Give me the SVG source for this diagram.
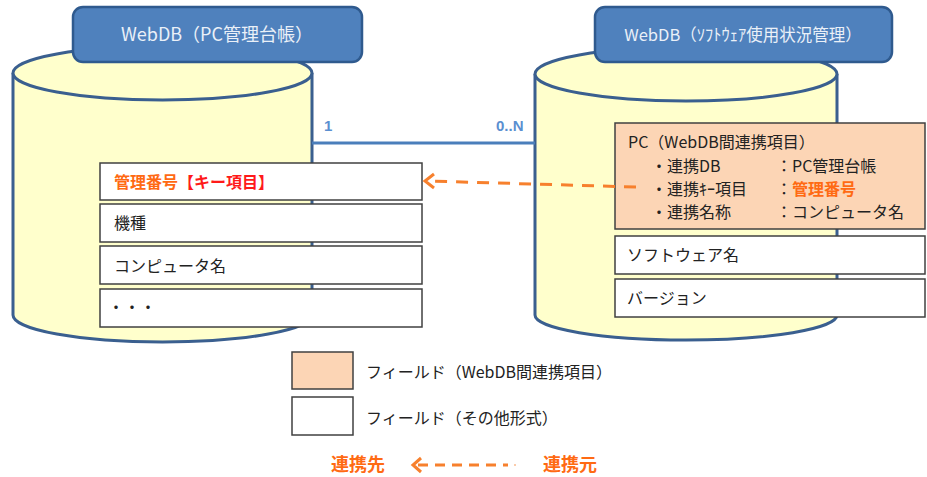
<svg xmlns="http://www.w3.org/2000/svg" width="927" height="477" viewBox="0 0 927 477">
<style>
text{font-family:"Noto Sans CJK JP","Liberation Sans",sans-serif;}
.cyl{fill:#FFFFCC;stroke:#3A5F8F;stroke-width:3;}
.hdr{fill:#4F81BD;stroke:#2F5A8E;stroke-width:2.5;}
.hdrt{fill:#EAF0F8;text-anchor:middle;}
.fld{fill:#FFFFFF;stroke:#404040;stroke-width:1.5;}
.lnk{fill:#FCD5B5;stroke:#404040;stroke-width:1.5;}
.ft{fill:#222;font-size:16px;}
.or{fill:#FF6A13;font-weight:bold;}
.rd{fill:#FF1A1A;font-weight:bold;}
.card{fill:#5B8FD0;font-weight:bold;font-size:15px;font-family:"Liberation Sans",sans-serif;}
.dash{fill:none;stroke:#F7802D;stroke-width:3;}
</style>
<g id="db-left">
  <path class="cyl" d="M13,73 L13,315 A149.5,27 0 0 0 312,315 L312,73"/>
  <ellipse class="cyl" cx="162.5" cy="73" rx="149.5" ry="27"/>
</g>
<g id="db-right">
  <path class="cyl" d="M535,74 L535,315 A151,25 0 0 0 837,315 L837,74"/>
  <ellipse class="cyl" cx="686" cy="74" rx="151" ry="27"/>
</g>
<g id="header-left">
  <rect class="hdr" x="73" y="7" width="289" height="55" rx="10"/>
  <text class="hdrt" x="217" y="41" font-size="18">WebDB（PC管理台帳）</text>
</g>
<g id="header-right">
  <rect class="hdr" x="595" y="7" width="297" height="55" rx="10"/>
  <text class="hdrt" x="743" y="41" font-size="16.5">WebDB（ｿﾌﾄｳｪｱ使用状況管理）</text>
</g>
<g id="left-fields">
  <rect class="fld" x="100" y="163" width="322" height="37"/>
  <text class="ft" x="114" y="188"><tspan class="or">管理番号</tspan><tspan class="rd">【キー項目】</tspan></text>
  <rect class="fld" x="100" y="204" width="322" height="38"/>
  <text class="ft" x="114" y="229">機種</text>
  <rect class="fld" x="100" y="246" width="322" height="38"/>
  <text class="ft" x="114" y="272">コンピュータ名</text>
  <rect class="fld" x="100" y="289" width="322" height="38"/>
  <text class="ft" x="108" y="313">・・・</text>
</g>
<g id="right-fields">
  <rect class="lnk" x="615" y="123" width="310" height="106"/>
  <text class="ft" x="628" y="148">PC（WebDB間連携項目）</text>
  <text class="ft" x="651" y="172">・連携DB</text>
  <text class="ft" x="776" y="172">：PC管理台帳</text>
  <text class="ft" x="651" y="195">・連携ｷｰ項目</text>
  <text class="ft" x="776" y="195">：<tspan class="or">管理番号</tspan></text>
  <text class="ft" x="651" y="218">・連携名称</text>
  <text class="ft" x="776" y="218">：コンピュータ名</text>
  <rect class="fld" x="615" y="236" width="310" height="38"/>
  <text class="ft" x="627" y="261">ソフトウェア名</text>
  <rect class="fld" x="615" y="279" width="310" height="38"/>
  <text class="ft" x="627" y="304">バージョン</text>
</g>
<g id="legend">
  <rect class="lnk" x="292" y="352" width="61" height="37"/>
  <text class="ft" x="366" y="378">フィールド（WebDB間連携項目）</text>
  <rect class="fld" x="292" y="397" width="61" height="38"/>
  <text class="ft" x="366" y="424">フィールド（その他形式）</text>
  <text class="or" x="331" y="471" font-size="18">連携先</text>
  <line class="dash" x1="418" y1="465" x2="508" y2="465" stroke-dasharray="10 7"/>
  <path class="dash" d="M421,458 L413,465 L421,472"/>
  <line x1="514" y1="465" x2="516" y2="465" stroke="#F7802D" stroke-width="2" opacity="0.4"/>
  <text class="or" x="543" y="471" font-size="18">連携元</text>
</g>
<g id="connectors">
  <line x1="312" y1="143" x2="535" y2="143" stroke="#4A7EBB" stroke-width="3"/>
  <text class="card" x="324" y="131">1</text>
  <text class="card" x="496" y="131">0..N</text>
  <line class="dash" x1="636" y1="187" x2="428" y2="181" stroke-dasharray="12 9"/>
  <path class="dash" d="M434,174 L425,181 L434,188"/>
</g>
</svg>
